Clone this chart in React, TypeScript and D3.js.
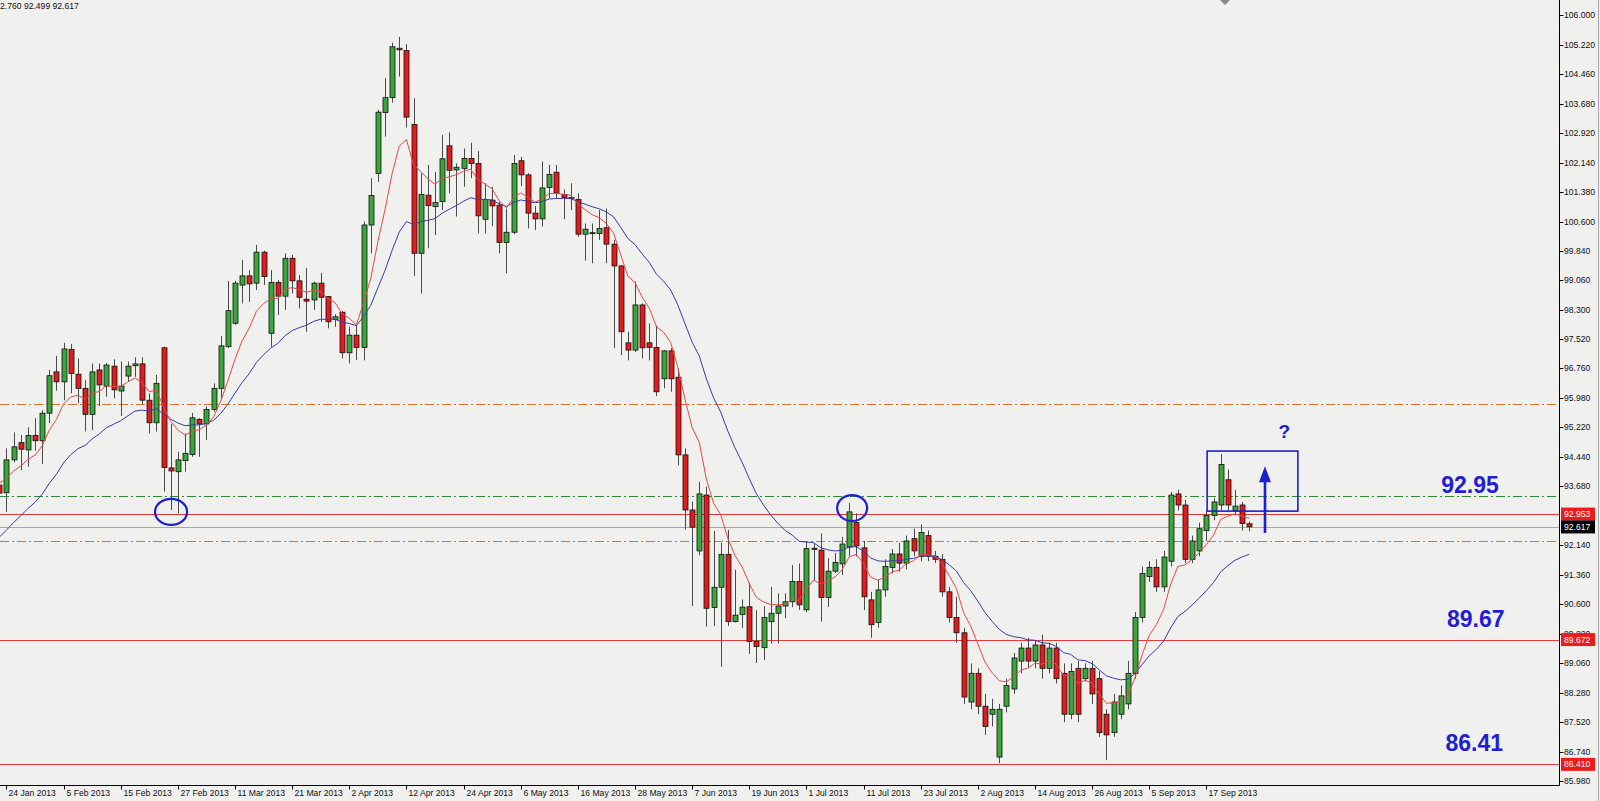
import React from "react";
import * as d3 from "d3";

// ---- data, first bar is the day before 24 Jan 2013 ----
const FIRST_INDEX = -1;
const opens = [
  93.71, 93.51, 94.37, 94.82, 94.63, 95.01, 94.87, 95.59, 96.67, 96.41, 97.26, 96.61, 96.24, 95.56, 96.72, 96.30, 96.82, 96.17, 96.56, 96.83, 96.88,
  95.93, 95.34, 97.30, 94.16, 94.06, 94.35, 94.51, 95.43, 95.31, 95.69, 96.24, 97.33, 97.94, 98.94, 99.18, 98.99, 99.80, 97.68, 99.01, 98.65,
  99.64, 99.05, 98.57, 98.55, 98.99, 98.64, 98.04, 98.23, 97.17, 97.63, 97.31, 100.51, 101.86, 103.45, 103.84, 105.13, 105.07, 103.14, 99.77, 101.29,
  100.99, 101.12, 102.58, 101.95, 101.99, 102.25, 102.12, 100.66, 101.16, 101.03, 100.05, 100.32, 102.19, 101.82, 100.82, 100.67, 101.49, 101.89, 101.31, 101.23,
  101.18, 100.27, 100.29, 100.29, 100.44, 100.01, 99.44, 97.43, 97.24, 98.42, 97.43, 97.31, 96.49, 97.22, 96.53, 94.50, 93.06, 91.99, 93.45, 90.51,
  91.04, 91.90, 90.14, 90.33, 90.53, 89.62, 89.46, 90.14, 90.36, 90.55, 90.66, 91.19, 90.45, 92.06, 92.01, 90.77, 91.46, 91.65, 92.09, 92.73,
  92.07, 90.71, 90.12, 90.97, 91.56, 91.91, 91.67, 92.31, 91.85, 92.39, 91.85, 91.77, 90.92, 90.25, 89.85, 88.04, 88.79, 87.93, 87.72, 86.60,
  87.93, 88.38, 89.11, 89.45, 89.11, 89.53, 88.92, 89.45, 88.79, 87.72, 88.92, 88.65, 88.92, 88.65, 87.72, 87.24, 87.72, 87.99, 88.79, 90.25,
  91.32, 91.56, 91.05, 91.72, 93.48, 93.19, 91.77, 91.99, 92.52, 92.92, 93.19, 93.85, 93.05, 93.19, 92.70,
];
const highs = [
  93.87, 94.67, 95.09, 95.02, 95.22, 95.46, 95.67, 96.72, 97.09, 97.43, 97.40, 97.02, 96.46, 96.89, 96.89, 96.90, 97.00, 96.94, 96.94, 97.05, 97.05,
  96.11, 96.59, 97.33, 95.31, 94.58, 95.06, 95.60, 95.46, 95.76, 96.37, 97.61, 99.05, 99.05, 99.60, 99.33, 99.99, 99.84, 99.33, 99.07, 99.77,
  99.73, 99.20, 99.38, 99.03, 99.26, 98.65, 98.18, 98.26, 97.85, 97.90, 100.60, 101.73, 103.52, 104.35, 105.28, 105.43, 105.24, 103.82, 101.86, 102.08,
  101.90, 102.86, 102.93, 102.12, 102.51, 102.66, 102.44, 101.60, 101.51, 101.12, 100.94, 102.34, 102.29, 101.86, 101.01, 102.17, 102.08, 102.08, 101.44, 101.60,
  101.34, 100.55, 100.55, 100.90, 100.94, 100.12, 99.46, 97.72, 99.03, 98.46, 97.94, 97.89, 97.24, 97.29, 96.76, 94.67, 93.28, 93.80, 93.67, 92.51,
  92.20, 92.54, 91.50, 90.72, 91.16, 90.44, 90.55, 91.05, 90.88, 90.88, 91.62, 91.66, 92.23, 92.19, 92.45, 91.80, 91.94, 92.36, 93.24, 92.97,
  92.25, 90.92, 91.24, 91.77, 92.04, 92.20, 92.39, 92.57, 92.68, 92.52, 91.99, 91.91, 91.05, 90.79, 89.98, 89.05, 88.92, 88.25, 88.12, 87.99,
  88.65, 89.32, 89.59, 89.72, 89.64, 89.80, 89.59, 89.59, 89.05, 89.05, 89.11, 89.05, 89.11, 88.84, 87.85, 88.25, 88.47, 89.11, 90.39, 91.58,
  91.72, 91.77, 91.99, 93.53, 93.59, 93.32, 92.39, 92.73, 93.05, 93.37, 94.52, 94.12, 93.59, 93.27, 92.76,
];
const lows = [
  92.80, 93.01, 94.31, 94.10, 94.19, 94.61, 94.26, 95.33, 96.18, 95.93, 96.11, 95.85, 95.11, 95.15, 95.78, 96.02, 95.98, 95.52, 96.41, 96.54, 95.83,
  95.06, 95.11, 93.54, 93.06, 92.97, 94.06, 94.45, 94.45, 94.89, 95.63, 95.98, 97.29, 97.90, 98.46, 98.50, 98.81, 98.94, 97.33, 98.16, 98.29,
  98.72, 98.33, 97.72, 98.29, 97.98, 97.81, 97.85, 97.02, 96.89, 96.98, 96.97, 99.77, 101.64, 102.82, 103.71, 104.39, 103.06, 99.18, 98.72, 99.90,
  100.25, 100.90, 101.34, 100.73, 101.51, 101.73, 100.29, 100.29, 100.48, 99.77, 99.25, 100.27, 101.53, 100.42, 100.38, 100.47, 101.21, 101.21, 100.66, 100.90,
  100.20, 99.58, 99.51, 100.12, 99.51, 97.29, 97.11, 96.97, 97.19, 97.02, 96.97, 96.04, 96.24, 96.15, 94.23, 92.55, 90.55, 91.88, 90.01, 90.03,
  88.96, 90.03, 90.12, 89.97, 89.30, 89.06, 89.14, 89.57, 89.57, 90.23, 90.52, 90.45, 90.39, 91.23, 90.14, 90.52, 91.41, 91.36, 91.86, 91.85,
  90.44, 89.72, 89.98, 90.79, 91.40, 91.45, 91.51, 91.85, 91.72, 91.72, 91.67, 90.79, 90.12, 89.59, 87.99, 87.85, 87.72, 87.18, 87.40, 86.44,
  87.77, 88.25, 88.79, 88.92, 88.92, 88.65, 88.79, 88.52, 87.51, 87.59, 87.51, 88.57, 87.99, 87.13, 86.52, 87.13, 87.59, 87.85, 88.65, 90.12,
  91.18, 90.92, 90.92, 91.58, 93.05, 91.67, 91.67, 91.85, 92.25, 92.79, 93.05, 93.05, 92.92, 92.52, 92.50,
];
const closes = [
  93.50, 94.37, 94.71, 94.65, 95.01, 94.87, 95.59, 96.57, 96.41, 97.27, 96.63, 96.24, 95.56, 96.67, 96.33, 96.85, 96.20, 96.30, 96.82, 96.88, 95.93,
  95.34, 96.37, 94.17, 94.08, 94.37, 94.54, 95.47, 95.31, 95.69, 96.24, 97.35, 98.27, 98.99, 99.18, 98.97, 99.80, 99.16, 99.01, 98.65, 99.64,
  99.05, 98.62, 98.52, 98.99, 98.62, 97.98, 98.11, 97.17, 97.63, 97.31, 100.51, 101.28, 103.46, 103.84, 105.17, 105.09, 103.33, 99.77, 101.31, 101.02,
  101.10, 102.24, 101.94, 102.02, 102.25, 102.12, 100.75, 101.18, 101.01, 100.05, 100.32, 102.12, 101.82, 100.82, 100.67, 101.48, 101.83, 101.34, 101.23, 101.20,
  100.27, 100.40, 100.31, 100.42, 100.01, 99.44, 97.72, 97.24, 98.42, 97.30, 97.31, 96.15, 97.22, 96.49, 94.50, 93.06, 92.61, 93.48, 90.49, 91.04,
  91.90, 90.14, 90.31, 90.52, 89.62, 89.49, 90.25, 90.36, 90.55, 90.66, 91.19, 90.58, 92.05, 92.03, 90.77, 91.46, 91.69, 92.17, 93.01, 92.12,
  90.79, 90.06, 90.97, 91.58, 91.91, 91.67, 92.25, 91.99, 92.47, 91.85, 91.77, 90.92, 90.25, 89.85, 88.17, 88.79, 87.93, 87.40, 87.85, 87.85,
  88.47, 89.19, 89.45, 89.11, 89.53, 88.92, 89.45, 88.65, 87.72, 88.84, 87.72, 88.92, 88.25, 87.24, 87.18, 88.04, 88.20, 88.79, 90.25, 91.40,
  91.56, 91.05, 91.83, 93.45, 93.19, 91.77, 92.25, 92.57, 92.92, 93.27, 94.25, 93.19, 93.16, 92.71, 92.62,
];

// moving averages (EMA 8 red, EMA 21 blue); their values at the left edge
const emaFastPeriod = 8;
const emaSlowPeriod = 21;
const emaFastSeed = 93.76;
const emaSlowSeed = 92.35;

// x-axis labels, one every 8 bars starting at bar 0
const xTickLabels = [
  "24 Jan 2013", "5 Feb 2013", "15 Feb 2013", "27 Feb 2013", "11 Mar 2013", "21 Mar 2013", "2 Apr 2013", "12 Apr 2013",
  "24 Apr 2013", "6 May 2013", "16 May 2013", "28 May 2013", "7 Jun 2013", "19 Jun 2013", "1 Jul 2013", "11 Jul 2013",
  "23 Jul 2013", "2 Aug 2013", "14 Aug 2013", "26 Aug 2013", "5 Sep 2013", "17 Sep 2013",
];
const xTickEvery = 8;

// price-axis labels that show (92.920 is covered by the 92.953 tag in the picture)
const yTickValues = [
  106.0, 105.22, 104.46, 103.68, 102.92, 102.14, 101.38, 100.6, 99.84, 99.06, 98.3, 97.52, 96.76, 95.98,
  95.22, 94.44, 93.68, 92.14, 91.36, 90.6, 89.82, 89.06, 88.28, 87.52, 86.74, 85.98,
];

// horizontal levels
const levelPrices = [95.83, 93.425, 92.953, 92.617, 92.25, 89.672, 86.41];
const levelKinds = ["orange", "green", "red", "gray", "orange", "red", "red"];

// price tags on the axis
const tagPrices = [92.953, 92.617, 89.672, 86.41];
const tagKinds = ["red", "black", "red", "red"];

// blue annotations (bar index, price)
const levelTexts = ["92.95", "89.67", "86.41"];
const levelTextBar = [204.9, 205.7, 205.5];
const levelTextPrice = [93.71, 90.21, 86.97];
const circleBars = [23.05, 118.4];
const circlePrices = [93.01, 93.11];
const boxBars = [168.1, 180.8];
const boxPrices = [94.6, 93.03];
const arrowBar = 176.2;
const arrowPrices = [92.46, 94.1];
const questionBar = 178.9;
const questionPrice = 95.12;

const headerText = "2.760 92.499 92.617";

const BG = "#f0f0ee";
const BLUE = "#1e1ed4";
const FONT = "'Liberation Sans', Arial, sans-serif";

function ema(values: number[], period: number, seed: number) {
  const a = 2 / (period + 1);
  const out: number[] = [];
  let v = seed;
  values.forEach((c, k) => {
    if (k > 0) v = v + a * (c - v);
    out.push(v);
  });
  return out;
}

export default function App() {
  const plotRight = 1559.5;
  const axisY = 785.5;
  const x = d3.scaleLinear().domain([0, 168]).range([6.4, 6.4 + 168 * 7.143]);
  const y = d3.scaleLinear().domain([85.98, 106]).range([780.8, 15]);

  const idx = closes.map((_, k) => k + FIRST_INDEX);
  const fast = ema(closes, emaFastPeriod, emaFastSeed);
  const slow = ema(closes, emaSlowPeriod, emaSlowSeed);
  const line = d3
    .line<number>()
    .x((_, k) => x(idx[k]))
    .y((v) => y(v));

  const levelStyle: Record<string, { stroke: string; dash?: string; w: number }> = {
    orange: { stroke: "#d9742e", dash: "9,3,2,3", w: 1 },
    green: { stroke: "#2f8a2f", dash: "9,3,2,3", w: 1 },
    red: { stroke: "#e23b3b", w: 1.2 },
    gray: { stroke: "#a9a9a9", w: 1 },
  };

  const bodyW = 5;

  return (
    <svg
      width={1600}
      height={801}
      style={{ position: "absolute", left: 0, top: 0, display: "block", background: BG }}
      fontFamily={FONT}
    >
      <defs>
        <clipPath id="plot">
          <rect x={0} y={0} width={plotRight} height={axisY} />
        </clipPath>
      </defs>
      <rect x={0} y={0} width={1600} height={801} fill={BG} />

      <g clipPath="url(#plot)">
        {levelPrices.map((p, k) => {
          const s = levelStyle[levelKinds[k]];
          return (
            <line
              key={"lv" + k}
              x1={0}
              x2={plotRight}
              y1={Math.round(y(p)) + 0.5}
              y2={Math.round(y(p)) + 0.5}
              stroke={s.stroke}
              strokeWidth={s.w}
              strokeDasharray={s.dash}
            />
          );
        })}

        {idx.map((i, k) => {
          const cx = Math.round(x(i)) + 0.5;
          const o = opens[k];
          const c = closes[k];
          const up = c >= o;
          const top = y(Math.max(o, c));
          const bot = y(Math.min(o, c));
          return (
            <g key={"c" + k}>
              <line x1={cx} x2={cx} y1={y(highs[k])} y2={y(lows[k])} stroke="#4a4a4a" strokeWidth={1} />
              <rect
                x={cx - bodyW / 2}
                y={top}
                width={bodyW}
                height={Math.max(1, bot - top)}
                fill={up ? "#3aa53a" : "#e01c1c"}
                stroke="#111"
                strokeWidth={0.8}
              />
            </g>
          );
        })}

        <path d={line(slow) || ""} fill="none" stroke="#3b3ba6" strokeWidth={1} />
        <path d={line(fast) || ""} fill="none" stroke="#e34a4a" strokeWidth={1} />
      </g>

      {/* axes */}
      <line x1={plotRight} x2={plotRight} y1={0} y2={axisY} stroke="#000" strokeWidth={1} />
      <line x1={0} x2={plotRight} y1={axisY} y2={axisY} stroke="#000" strokeWidth={1} />
      <line x1={1598.5} x2={1598.5} y1={0} y2={801} stroke="#a8a8a8" strokeWidth={1} />

      {yTickValues.map((v, k) => (
        <g key={"yt" + k}>
          <line x1={plotRight} x2={plotRight + 4} y1={Math.round(y(v)) + 0.5} y2={Math.round(y(v)) + 0.5} stroke="#000" />
          <text x={1564} y={y(v)} dy="0.35em" fontSize={8.6} fill="#111">
            {v.toFixed(3)}
          </text>
        </g>
      ))}

      {tagPrices.map((p, k) => (
        <g key={"tag" + k}>
          <rect x={1561} y={y(p) - 6.5} width={34} height={13} fill={tagKinds[k] === "red" ? "#ec1c1c" : "#000"} />
          <text x={1564} y={y(p)} dy="0.35em" fontSize={8.6} fill="#fff">
            {p.toFixed(3)}
          </text>
        </g>
      ))}

      {xTickLabels.map((lab, k) => {
        const tx = Math.round(x(k * xTickEvery)) + 0.5;
        return (
          <g key={"xt" + k}>
            <line x1={tx} x2={tx} y1={axisY} y2={axisY + 4} stroke="#000" />
            <text x={tx + 2} y={796} fontSize={8.6} fill="#111">
              {lab}
            </text>
          </g>
        );
      })}

      <text x={0} y={9} fontSize={8.6} fill="#111">
        {headerText}
      </text>
      <path d="M1220,0 L1230,0 L1225,5 Z" fill="#8a8a8a" />

      {/* annotations */}
      {circleBars.map((b, k) => (
        <ellipse
          key={"ci" + k}
          cx={x(b)}
          cy={y(circlePrices[k])}
          rx={k === 0 ? 16 : 15}
          ry={13}
          fill="none"
          stroke={BLUE}
          strokeWidth={2.2}
        />
      ))}
      <rect
        x={x(boxBars[0])}
        y={y(boxPrices[0])}
        width={x(boxBars[1]) - x(boxBars[0])}
        height={y(boxPrices[1]) - y(boxPrices[0])}
        fill="none"
        stroke={BLUE}
        strokeWidth={1.6}
      />
      <line x1={x(arrowBar)} x2={x(arrowBar)} y1={y(arrowPrices[0])} y2={y(arrowPrices[1]) + 10} stroke={BLUE} strokeWidth={2.6} />
      <path
        d={`M${x(arrowBar)},${y(arrowPrices[1]) - 4} L${x(arrowBar) - 6},${y(arrowPrices[1]) + 12} L${x(arrowBar) + 6},${y(arrowPrices[1]) + 12} Z`}
        fill={BLUE}
      />
      <text x={x(questionBar)} y={y(questionPrice)} dy="0.35em" textAnchor="middle" fontSize={19} fontWeight="bold" fill={BLUE}>
        ?
      </text>
      {levelTexts.map((t, k) => (
        <text
          key={"lt" + k}
          x={x(levelTextBar[k])}
          y={y(levelTextPrice[k])}
          dy="0.35em"
          textAnchor="middle"
          fontSize={23}
          fontWeight="bold"
          fill={BLUE}
        >
          {t}
        </text>
      ))}
    </svg>
  );
}
